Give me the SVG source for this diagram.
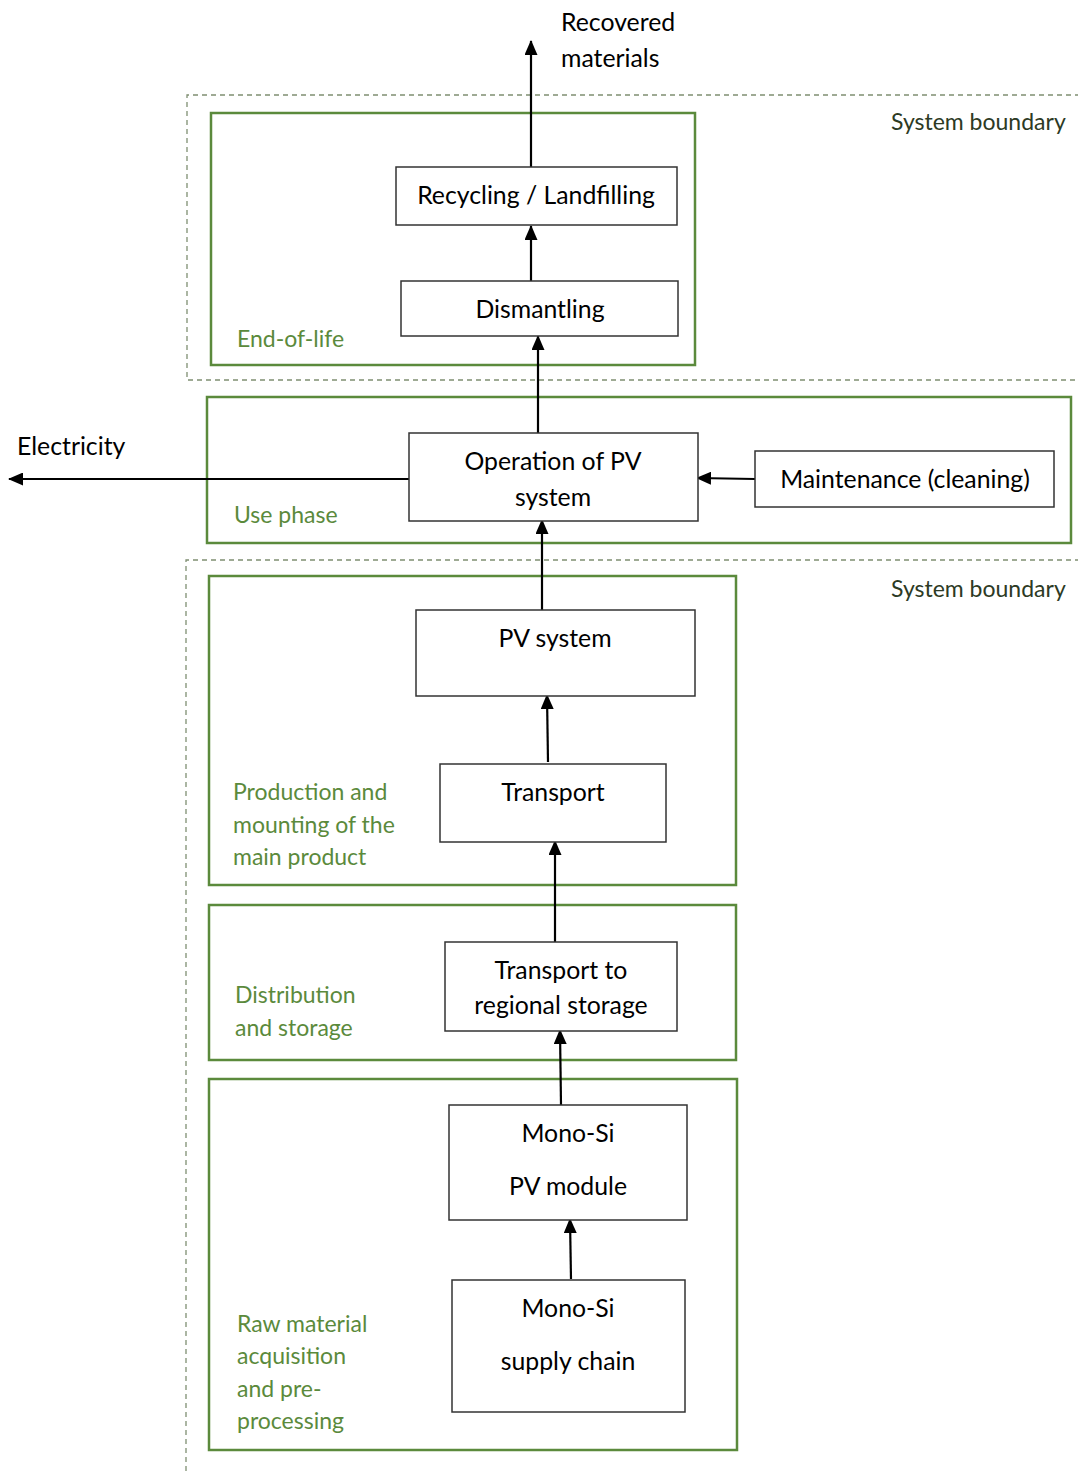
<svg xmlns="http://www.w3.org/2000/svg" width="1078" height="1475" viewBox="0 0 1078 1475">
<style>
  .bound{fill:none;stroke:#7f8f72;stroke-width:1.3;stroke-dasharray:5,4}
  .stage{fill:none;stroke:#5b8a3c;stroke-width:2.5}
  .box{fill:#fff;stroke:#333;stroke-width:1.5}
  .t{font-family:Lato,"Liberation Sans",sans-serif;font-size:24.8px;fill:#000;text-anchor:middle}
  .tl{font-family:Lato,"Liberation Sans",sans-serif;font-size:24.8px;fill:#000}
  .g{font-family:Lato,"Liberation Sans",sans-serif;font-size:23px;fill:#5b8a3c}
  .sb{font-family:Lato,"Liberation Sans",sans-serif;font-size:23px;fill:#2d3a24}
  .c{stroke:#000;stroke-width:2.2;fill:none;marker-end:url(#ah)}
</style>
<defs>
  <marker id="ah" markerWidth="15" markerHeight="13" refX="14" refY="6.5" orient="auto" markerUnits="userSpaceOnUse" viewBox="0 0 15 13">
    <path d="M0,0 L15,6.5 L0,13 z" fill="#000"/>
  </marker>
</defs>
<rect width="1078" height="1475" fill="#fff"/>

<g id="boundaries">
  <path class="bound" d="M1080,95 H187 V380 H1080"/>
  <path class="bound" d="M1080,560 H186 V1475"/>
  <text class="sb" x="891" y="130">System boundary</text>
  <text class="sb" x="891" y="597">System boundary</text>
</g>

<g id="stage-eol">
  <rect class="stage" x="211" y="113" width="484" height="252"/>
  <text class="g" x="237" y="347">End-of-life</text>
</g>
<g id="stage-use">
  <rect class="stage" x="207" y="397" width="864" height="146"/>
  <text class="g" x="234" y="523">Use phase</text>
</g>
<g id="stage-production">
  <rect class="stage" x="209" y="576" width="527" height="309"/>
  <text class="g" x="233" y="800">Production and</text>
  <text class="g" x="233" y="833">mounting of the</text>
  <text class="g" x="233" y="865">main product</text>
</g>
<g id="stage-distribution">
  <rect class="stage" x="209" y="905" width="527" height="155"/>
  <text class="g" x="235" y="1003">Distribution</text>
  <text class="g" x="235" y="1036">and storage</text>
</g>
<g id="stage-raw">
  <rect class="stage" x="209" y="1079" width="528" height="371"/>
  <text class="g" x="237" y="1332">Raw material</text>
  <text class="g" x="237" y="1364">acquisition</text>
  <text class="g" x="237" y="1397">and pre-</text>
  <text class="g" x="237" y="1429">processing</text>
</g>

<g id="connectors">
  <line class="c" x1="531" y1="167" x2="531" y2="41"/>
  <line class="c" x1="531" y1="281" x2="531" y2="226"/>
  <line class="c" x1="538" y1="433" x2="538" y2="336"/>
  <line class="c" x1="409" y1="479" x2="9" y2="479"/>
  <line class="c" x1="755" y1="479" x2="697" y2="478"/>
  <line class="c" x1="542" y1="610" x2="542" y2="520"/>
  <line class="c" x1="548" y1="762" x2="547" y2="695"/>
  <line class="c" x1="555" y1="942" x2="555" y2="841"/>
  <line class="c" x1="561" y1="1105" x2="560" y2="1030"/>
  <line class="c" x1="571" y1="1279" x2="570" y2="1219"/>
</g>

<g id="label-recovered">
  <text class="tl" x="561" y="31">Recovered</text>
  <text class="tl" x="561" y="67">materials</text>
</g>
<g id="label-electricity">
  <text class="tl" x="17" y="455">Electricity</text>
</g>

<g id="node-recycling">
  <rect class="box" x="396" y="167" width="281" height="58"/>
  <text class="t" x="536" y="204">Recycling / Landfilling</text>
</g>
<g id="node-dismantling">
  <rect class="box" x="401" y="281" width="277" height="55"/>
  <text class="t" x="540" y="318">Dismantling</text>
</g>
<g id="node-operation">
  <rect class="box" x="409" y="433" width="289" height="88"/>
  <text class="t" x="553" y="470">Operation of PV</text>
  <text class="t" x="553" y="506">system</text>
</g>
<g id="node-maintenance">
  <rect class="box" x="755" y="451" width="299" height="56"/>
  <text class="t" x="905" y="488">Maintenance (cleaning)</text>
</g>
<g id="node-pvsystem">
  <rect class="box" x="416" y="610" width="279" height="86"/>
  <text class="t" x="555" y="647">PV system</text>
</g>
<g id="node-transport">
  <rect class="box" x="440" y="764" width="226" height="78"/>
  <text class="t" x="553" y="801">Transport</text>
</g>
<g id="node-transport-storage">
  <rect class="box" x="445" y="942" width="232" height="89"/>
  <text class="t" x="561" y="979">Transport to</text>
  <text class="t" x="561" y="1014">regional storage</text>
</g>
<g id="node-module">
  <rect class="box" x="449" y="1105" width="238" height="115"/>
  <text class="t" x="568" y="1142">Mono-Si</text>
  <text class="t" x="568" y="1195">PV module</text>
</g>
<g id="node-supply">
  <rect class="box" x="452" y="1280" width="233" height="132"/>
  <text class="t" x="568" y="1317">Mono-Si</text>
  <text class="t" x="568" y="1370">supply chain</text>
</g>
</svg>
